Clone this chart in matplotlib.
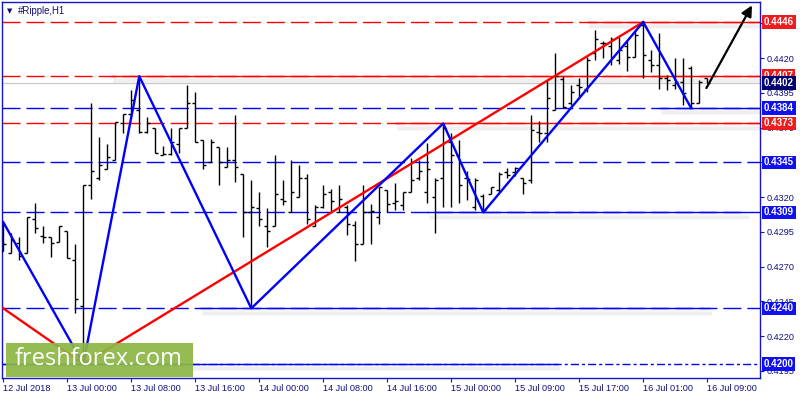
import matplotlib
matplotlib.use("Agg")
import matplotlib.pyplot as plt
import matplotlib.patheffects as pe
from matplotlib.patches import Rectangle
from matplotlib.transforms import blended_transform_factory
import numpy as np

plt.rcParams["font.family"] = ["Liberation Sans", "DejaVu Sans"]
plt.rcParams["lines.scale_dashes"] = False

# ---- hourly OHLC bars (#Ripple, H1) ----
opens = [0.4281, 0.4280, 0.4287, 0.4280, 0.4304, 0.4292, 0.4291, 0.4288, 0.4296, 0.4275,
         0.4242, 0.4329, 0.4334, 0.4340, 0.4347, 0.4373, 0.4380, 0.4383, 0.4367, 0.4370,
         0.4350, 0.4351, 0.4358, 0.4370, 0.4388, 0.4361, 0.4345, 0.4356, 0.4342, 0.4347,
         0.4337, 0.4309, 0.4312, 0.4299, 0.4299, 0.4319, 0.4309, 0.4320, 0.4334, 0.4299,
         0.4313, 0.4324, 0.4309, 0.4313, 0.4300, 0.4286, 0.4309, 0.4306, 0.4325, 0.4316,
         0.4314, 0.4324, 0.4334, 0.4324, 0.4320, 0.4334, 0.4360, 0.4350, 0.4334, 0.4313,
         0.4321, 0.4322, 0.4325, 0.4338, 0.4338, 0.4334, 0.4332, 0.4367, 0.4366, 0.4383,
         0.4405, 0.4388, 0.4401, 0.4398, 0.4424, 0.4431, 0.4429, 0.4419, 0.4429, 0.4421,
         0.4444, 0.4419, 0.4415, 0.4406, 0.4401, 0.4403, 0.4413, 0.4388, 0.4406]
highs = [0.4302, 0.4294, 0.4291, 0.4306, 0.4316, 0.4299, 0.4291, 0.4299, 0.4296, 0.4286,
         0.4329, 0.4388, 0.4363, 0.4358, 0.4374, 0.4380, 0.4397, 0.4407, 0.4378, 0.4370,
         0.4357, 0.4370, 0.4370, 0.4401, 0.4396, 0.4361, 0.4362, 0.4356, 0.4356, 0.4379,
         0.4337, 0.4332, 0.4324, 0.4312, 0.4350, 0.4332, 0.4347, 0.4343, 0.4337, 0.4314,
         0.4329, 0.4326, 0.4329, 0.4314, 0.4303, 0.4329, 0.4315, 0.4327, 0.4325, 0.4330,
         0.4324, 0.4348, 0.4347, 0.4359, 0.4334, 0.4373, 0.4366, 0.4361, 0.4339, 0.4334,
         0.4322, 0.4327, 0.4338, 0.4341, 0.4342, 0.4334, 0.4379, 0.4375, 0.4404, 0.4424,
         0.4407, 0.4401, 0.4406, 0.4421, 0.4440, 0.4432, 0.4435, 0.4435, 0.4432, 0.4440,
         0.4446, 0.4426, 0.4438, 0.4408, 0.4420, 0.4420, 0.4414, 0.4404, 0.4406]
lows = [0.4281, 0.4280, 0.4275, 0.4280, 0.4294, 0.4287, 0.4277, 0.4288, 0.4276, 0.4237,
        0.4200, 0.4319, 0.4332, 0.4340, 0.4347, 0.4366, 0.4378, 0.4366, 0.4366, 0.4352,
        0.4350, 0.4350, 0.4352, 0.4370, 0.4360, 0.4340, 0.4345, 0.4329, 0.4342, 0.4331,
        0.4291, 0.4240, 0.4299, 0.4284, 0.4299, 0.4314, 0.4309, 0.4320, 0.4301, 0.4299,
        0.4312, 0.4309, 0.4309, 0.4293, 0.4274, 0.4286, 0.4286, 0.4301, 0.4309, 0.4311,
        0.4311, 0.4324, 0.4332, 0.4316, 0.4294, 0.4313, 0.4313, 0.4316, 0.4318, 0.4311,
        0.4309, 0.4322, 0.4324, 0.4334, 0.4335, 0.4322, 0.4330, 0.4360, 0.4360, 0.4383,
        0.4384, 0.4386, 0.4392, 0.4396, 0.4419, 0.4420, 0.4415, 0.4416, 0.4411, 0.4421,
        0.4406, 0.4410, 0.4398, 0.4397, 0.4398, 0.4386, 0.4384, 0.4388, 0.4402]
closes = [0.4286, 0.4289, 0.4278, 0.4306, 0.4298, 0.4291, 0.4287, 0.4299, 0.4276, 0.4247,
          0.4329, 0.4339, 0.4343, 0.4349, 0.4374, 0.4380, 0.4390, 0.4367, 0.4373, 0.4352,
          0.4351, 0.4360, 0.4370, 0.4388, 0.4360, 0.4343, 0.4360, 0.4345, 0.4347, 0.4342,
          0.4309, 0.4313, 0.4304, 0.4296, 0.4322, 0.4317, 0.4324, 0.4334, 0.4304, 0.4313,
          0.4322, 0.4317, 0.4319, 0.4301, 0.4286, 0.4309, 0.4310, 0.4327, 0.4315, 0.4317,
          0.4324, 0.4332, 0.4339, 0.4340, 0.4332, 0.4370, 0.4350, 0.4329, 0.4333, 0.4332,
          0.4311, 0.4327, 0.4337, 0.4336, 0.4341, 0.4330, 0.4368, 0.4366, 0.4391, 0.4407,
          0.4385, 0.4396, 0.4399, 0.4419, 0.4434, 0.4431, 0.4434, 0.4426, 0.4421, 0.4437,
          0.4422, 0.4415, 0.4406, 0.4404, 0.4403, 0.4395, 0.4388, 0.4403, 0.4402]

time_labels = ["12 Jul 2018", "13 Jul 00:00", "13 Jul 08:00", "13 Jul 16:00",
               "14 Jul 00:00", "14 Jul 08:00", "14 Jul 16:00", "15 Jul 00:00",
               "15 Jul 09:00", "15 Jul 17:00", "16 Jul 01:00", "16 Jul 09:00"]
time_label_bars = [0, 8, 16, 24, 32, 40, 48, 56, 64, 72, 80, 88]

# zigzag (blue) and trend line (red)
zigzag_bars = [0, 10, 17, 31, 55, 60, 80, 86]
zigzag_prices = [0.4302, 0.4200, 0.4407, 0.4240, 0.4373, 0.4309, 0.4446, 0.4384]
trend_bars = [0, 10, 80]
trend_prices = [0.4240, 0.4200, 0.4446]

# horizontal levels: price, colour kind, solid segment (start bar, end bar); None = axis edge
level_prices = [0.4446, 0.4407, 0.4384, 0.4373, 0.4345, 0.4309, 0.4240, 0.4200]
level_kinds = ["r", "r", "b", "r", "b", "b", "b", "b"]
level_segments = [(73, None), (13.5, None), (82, None), (49, None), None,
                  (53, 93), (24.6, 88.4), (None, 69.3)]
bid_price = 0.4402

arrow_from = (87.9, 0.43985)
arrow_to = (93.6, 0.4458)

y_ticks = [0.4195, 0.4220, 0.4245, 0.4270, 0.4295, 0.4320, 0.4345, 0.4370, 0.4395, 0.4420, 0.4445]
# scale labels that sit completely under a level box
hidden_ticks = [0.4345, 0.4445]

RED, BLUE, NAVY, AXC = "#ff0000", "#0000ff", "#10107a", "#1414c8"
BOX = {"r": "#ee1c1c", "b": "#1010f0"}

fig = plt.figure(figsize=(8, 4), dpi=100)
fig.patch.set_facecolor("white")
ax = fig.add_axes([2 / 800, 22 / 400, 758 / 800, 376 / 400])
ax.set_xlim(-0.16, 94.6)
ax.set_ylim(0.41899, 0.44604)

x = np.arange(len(opens))
xmin, xmax = ax.get_xlim()

# levels: dashed full width, solid pieces on top with a soft shadow
shadow = [pe.SimpleLineShadow(offset=(1.5, -3), shadow_color="gray", alpha=0.07, linewidth=4),
          pe.SimpleLineShadow(offset=(1.5, -3), shadow_color="gray", alpha=0.06, linewidth=2),
          pe.Normal()]
for p, k, seg in zip(level_prices, level_kinds, level_segments):
    col = RED if k == "r" else BLUE
    if p == level_prices[-1]:
        ax.axhline(p, color=col, lw=1.0, ls=(0, (5.8, 2.2, 2.2, 2.2)), zorder=1)
    else:
        ax.axhline(p, color=col, lw=1.0, ls=(0, (13, 4.3)), zorder=1)
    if seg is not None:
        s = xmin if seg[0] is None else seg[0]
        e = xmax if seg[1] is None else seg[1]
        ax.plot([s, e], [p, p], color=col, lw=1.0, zorder=2, path_effects=shadow,
                solid_capstyle="butt")
ax.axhline(bid_price, color="#c8c8c8", lw=0.9, zorder=1)

# OHLC bars
ax.vlines(x, lows, highs, color="black", lw=1.0, zorder=3)
ax.hlines(opens, x - 0.38, x, color="black", lw=1.0, zorder=3)
ax.hlines(closes, x, x + 0.38, color="black", lw=1.0, zorder=3)

ax.plot(trend_bars, trend_prices, color=RED, lw=1.7, zorder=4)
ax.plot(zigzag_bars, zigzag_prices, color=BLUE, lw=1.7, zorder=5)

ax.annotate("", xy=arrow_to, xytext=arrow_from,
            arrowprops=dict(arrowstyle="-|>", color="black", lw=1.6, mutation_scale=16,
                            shrinkA=0, shrinkB=0),
            zorder=6)

# axes styling
for sp in ax.spines.values():
    sp.set_color(AXC)
    sp.set_linewidth(1.0)
ax.yaxis.tick_right()
ax.set_yticks(y_ticks)
ax.set_yticklabels(["" if t in hidden_ticks else f"{t:.4f}" for t in y_ticks])
ax.tick_params(axis="y", direction="out", length=3, width=0.8, color=AXC, pad=2,
               labelsize=6.6, labelcolor=NAVY)
ax.set_xticks(time_label_bars)
ax.set_xticklabels(time_labels)
ax.tick_params(axis="x", direction="out", length=3, width=0.8, color=AXC, pad=1.5,
               labelsize=6.6, labelcolor=NAVY)
for lbl in ax.get_xticklabels():
    lbl.set_ha("left")

# price boxes on the right scale
tr = blended_transform_factory(ax.transAxes, ax.transData)
for p, k in zip(level_prices, level_kinds):
    ax.text(1.005, p, f"{p:.4f}", transform=tr, ha="left", va="center", color="white",
            fontsize=7, fontweight="bold", clip_on=False, zorder=10,
            bbox=dict(boxstyle="square,pad=0.18", fc=BOX[k], ec="none"))
ax.text(1.005, bid_price, f"{bid_price:.4f}", transform=tr, ha="left", va="center",
        color="white", fontsize=7, fontweight="bold", clip_on=False, zorder=11,
        bbox=dict(boxstyle="square,pad=0.18", fc="#000070", ec="none"))

# title
fig.text(7 / 800, 1 - 11 / 400, "\u25bc", fontsize=5, color=NAVY, va="center",
         family="DejaVu Sans")
fig.text(18 / 800, 1 - 11 / 400, "#Ripple,H1", fontsize=6.9, color=NAVY, va="center")

# watermark logo
fig.add_artist(Rectangle((6 / 800, 1 - 377 / 400), 187 / 800, 34 / 400,
                         transform=fig.transFigure, fc="#8cb644", ec="none",
                         alpha=0.92, zorder=20))
fig.text(99 / 800, 1 - 359 / 400, "freshforex.com", fontsize=17, color="white",
         family="Open Sans", ha="center", va="center", zorder=21)

fig.savefig("out.png", dpi=100)
